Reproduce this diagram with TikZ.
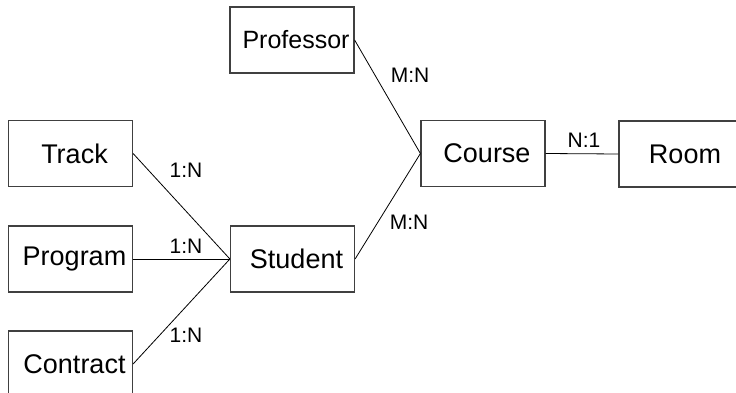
\documentclass[tikz,border=0pt]{standalone}
\usepackage{fontspec}
\setmainfont{Liberation Sans}
\begin{document}
\begin{tikzpicture}[x=1pt,y=-1pt,
  entity/.style={draw=black!75, line width=1.2pt, minimum width=124pt, minimum height=66pt,
    inner sep=0pt, font=\fontsize{27}{32}\selectfont, execute at begin node={\hspace*{8pt}}},
  rel/.style={draw=black, line width=0.8pt},
  card/.style={font=\fontsize{21}{25}\selectfont, inner sep=0pt}]
\useasboundingbox (0,0) rectangle (736,393);
\clip (0,0) rectangle (736,393);
\fill[white] (0,0) rectangle (736,393);
\node[entity, font=\fontsize{25}{30}\selectfont] (prof) at (292,40) {Professor};
\node[entity] (track) at (70.5,153.5) {Track};
\node[entity] (prog) at (70.5,259) {Program};
\node[entity] (contr) at (70.5,364) {Contract};
\node[entity] (stud) at (292.5,259) {Student};
\node[entity] (course) at (483,153.5) {Course};
\node[entity] (room) at (681,154) {Room};
\draw[rel] (track.east) -- (stud.west);
\draw[rel] (prog.east) -- (stud.west);
\draw[rel] (contr.east) -- (stud.west);
\draw[rel] (stud.east) -- (course.west);
\draw[rel] (prof.east) -- (course.west);
\draw[rel] (course.east) -- (room.west);
\node[card] (l1) at (186,170) {1:N};
\node[card] (l2) at (186,246) {1:N};
\node[card] (l3) at (186,335) {1:N};
\node[card] (l4) at (410,75) {M:N};
\node[card] (l5) at (409,222) {M:N};
\node[card] (l6) at (584,140) {N:1};
\end{tikzpicture}
\end{document}
